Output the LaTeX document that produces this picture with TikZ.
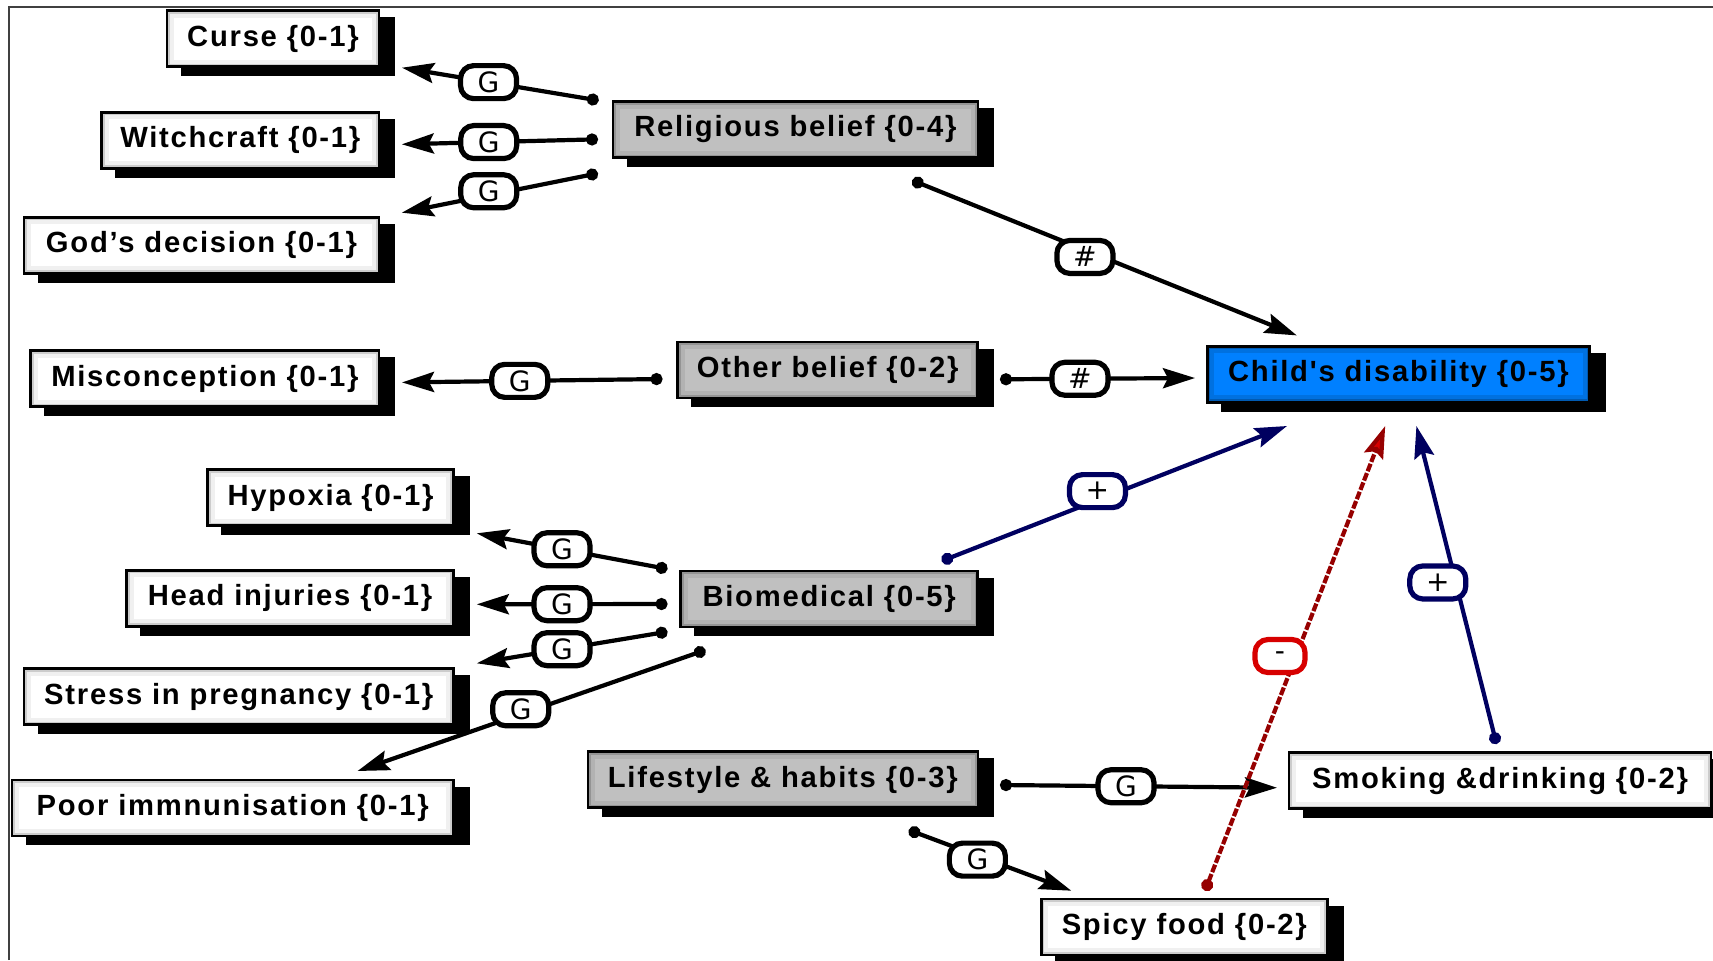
\documentclass[tikz,border=0pt]{standalone}
\usepackage{fontspec}
\usetikzlibrary{arrows.meta,backgrounds}
\newfontfamily\boxfont[LetterSpace=6,Ligatures=TeXOff]{Liberation Sans}
\newfontfamily\tagfont{DejaVu Sans}
\definecolor{boxgray}{RGB}{192,192,192}
\definecolor{dblue}{RGB}{0,128,255}
\definecolor{navy}{RGB}{0,0,96}
\definecolor{dred}{RGB}{150,0,0}
\definecolor{bred}{RGB}{215,0,0}

\begin{document}
\begin{tikzpicture}[x=0.5pt,y=-0.5pt,
  glow/.style 2 args={path picture={
    \draw[#1,line width=7pt] (path picture bounding box.north west) rectangle (path picture bounding box.south east);
    \draw[#2,line width=3pt] (path picture bounding box.north west) rectangle (path picture bounding box.south east);}},
  box/.style={draw=black,line width=1.3pt,minimum height=28pt,inner sep=0pt,
    font=\boxfont\bfseries\fontsize{14.6}{16}\selectfont,text=black,fill=white,glow={black!6}{black!20}},
  greybox/.style={box,fill=boxgray,glow={black!30}{black!42}},
  bluebox/.style={box,fill=dblue,glow={dblue!88!black}{dblue!70!black}},
  tag/.style={solid,draw=black,line width=2.6pt,rounded corners=6.5pt,fill=white,
    minimum width=28pt,minimum height=16.5pt,inner sep=0pt,
    font=\tagfont\fontsize{14}{14}\selectfont},
  link/.style={line width=2.1pt,draw=black,
    {Circle[length=6pt]}-{Stealth[length=16pt,width=10pt,inset=2.5pt]}},
  poslink/.style={link,draw=navy},
  neglink/.style={line width=2.1pt,draw=dred,dash pattern=on 4pt off 1pt,
    {Circle[length=6pt,fill=dred]}-{Stealth[length=16pt,width=10pt,inset=2.5pt,fill=bred]}}
]
\useasboundingbox (0,0) rectangle (1713,960);

% concept boxes
\node[box,minimum width=106pt]      (cu) at (273,38.5)    {Curse \{0-1\}};
\node[box,minimum width=138.75pt]   (wi) at (240.3,140.3) {Witchcraft \{0-1\}};
\node[box,minimum width=177.5pt]    (gd) at (201.5,245.2) {God’s decision \{0-1\}};
\node[greybox,minimum width=182.5pt](ro) at (795.4,129.5) {Religious belief \{0-4\}};
\node[box,minimum width=174.25pt]   (mi) at (204.9,378.5) {Misconception \{0-1\}};
\node[greybox,minimum width=150pt]  (ob) at (827.6,369.9) {Other belief \{0-2\}};
\node[bluebox,minimum width=191.2pt](cd) at (1398.4,374.2){Child's disability \{0-5\}};
\node[box,minimum width=122.9pt]    (hy) at (330.5,497.7) {Hypoxia \{0-1\}};
\node[box,minimum width=163.35pt]   (hi) at (290,598.2)   {Head injuries \{0-1\}};
\node[box,minimum width=214.7pt]    (st) at (238.7,696.5) {Stress in pregnancy \{0-1\}};
\node[box,minimum width=220.7pt]    (pi) at (232.7,808)   {Poor immnunisation \{0-1\}};
\node[greybox,minimum width=148.5pt](bm) at (829.2,599)   {Biomedical \{0-5\}};
\node[greybox,minimum width=195pt]  (lh) at (782.8,779.5) {Lifestyle \& habits \{0-3\}};
\node[box,minimum width=211pt]      (sd) at (1500,780.5)  {Smoking \&drinking \{0-2\}};
\node[box,minimum width=143.1pt]    (sf) at (1184.3,927)  {Spicy food \{0-2\}};

% frame and box shadows
\begin{scope}[on background layer]
  \draw[line width=1.2pt,black!75] (9,960) -- (9,7) -- (1713,7);
  \foreach \n in {cu,wi,gd,ro,mi,ob,cd,hy,hi,st,pi,bm,lh,sd,sf}
    \fill[black] ([shift={(15,8)}]\n.north west) rectangle ([shift={(15,8)}]\n.south east);
\end{scope}

% connector ends
\coordinate (ro-a) at (598.7,100.5);
\coordinate (ro-b) at (598,139.3);
\coordinate (ro-c) at (598,173.3);
\coordinate (ro-d) at (912.2,180.3);
\coordinate (cu-in) at (402,67.7);
\coordinate (wi-in) at (401.8,144.3);
\coordinate (gd-in) at (401.8,212.7);
\coordinate (ob-w) at (662.5,379);
\coordinate (ob-e) at (1000,379.3);
\coordinate (mi-in) at (402,382.4);
\coordinate (cd-a) at (1296.8,335.4);
\coordinate (cd-b) at (1195,378);
\coordinate (cd-c) at (1287,426);
\coordinate (cd-d) at (1385.2,426);
\coordinate (cd-e) at (1416.4,426);
\coordinate (bm-a) at (667.5,569);
\coordinate (bm-b) at (667.5,604);
\coordinate (bm-c) at (667.5,631.7);
\coordinate (bm-d) at (705.5,650);
\coordinate (bm-e) at (941.7,561);
\coordinate (hy-in) at (476.8,533.3);
\coordinate (hi-in) at (476.8,604.3);
\coordinate (st-in) at (476.8,663.3);
\coordinate (pi-in) at (357.5,771);
\coordinate (lh-e) at (1000,785);
\coordinate (lh-s) at (908.8,830);
\coordinate (sd-in) at (1277,787.7);
\coordinate (sf-in) at (1071.3,890.7);
\coordinate (sd-out) at (1496.5,744);
\coordinate (sf-out) at (1205,890.7);

% religious belief
\draw[link] (ro-a) -- node[tag,pos=0.56]{G} (cu-in);
\draw[link] (ro-b) -- node[tag,pos=0.557]{G} (wi-in);
\draw[link] (ro-c) -- node[tag,pos=0.557,yshift=2pt]{G} (gd-in);
\draw[link] (ro-d) -- node[tag,pos=0.449,yshift=-3.5pt]{\textit{\#}} (cd-a);

% other belief
\draw[link] (ob-w) -- node[tag,pos=0.548]{G} (mi-in);
\draw[link] (ob-e) -- node[tag,pos=0.41]{\textit{\#}} (cd-b);

% biomedical
\draw[link] (bm-a) -- node[tag,pos=0.553]{G} (hy-in);
\draw[link] (bm-b) -- node[tag,pos=0.553]{G} (hi-in);
\draw[link] (bm-c) -- node[tag,pos=0.553]{G} (st-in);
\draw[link] (bm-d) -- node[tag,pos=0.531,yshift=2.5pt]{G} (pi-in);
\draw[poslink] (bm-e) -- node[tag,draw=navy,pos=0.451,yshift=4.5pt]{+} (cd-c);

% lifestyle and habits
\draw[link] (lh-e) -- node[tag,pos=0.455]{G} (sd-in);
\draw[link] (lh-s) -- node[tag,pos=0.422,yshift=-2pt]{G} (sf-in);
\draw[neglink] (sf-out) -- node[tag,draw=bred,pos=0.505,xshift=-8pt,minimum width=25pt]{-} (cd-d);
\draw[poslink] (sd-out) -- node[tag,draw=navy,pos=0.508,xshift=-9pt]{+} (cd-e);
\end{tikzpicture}
\end{document}
